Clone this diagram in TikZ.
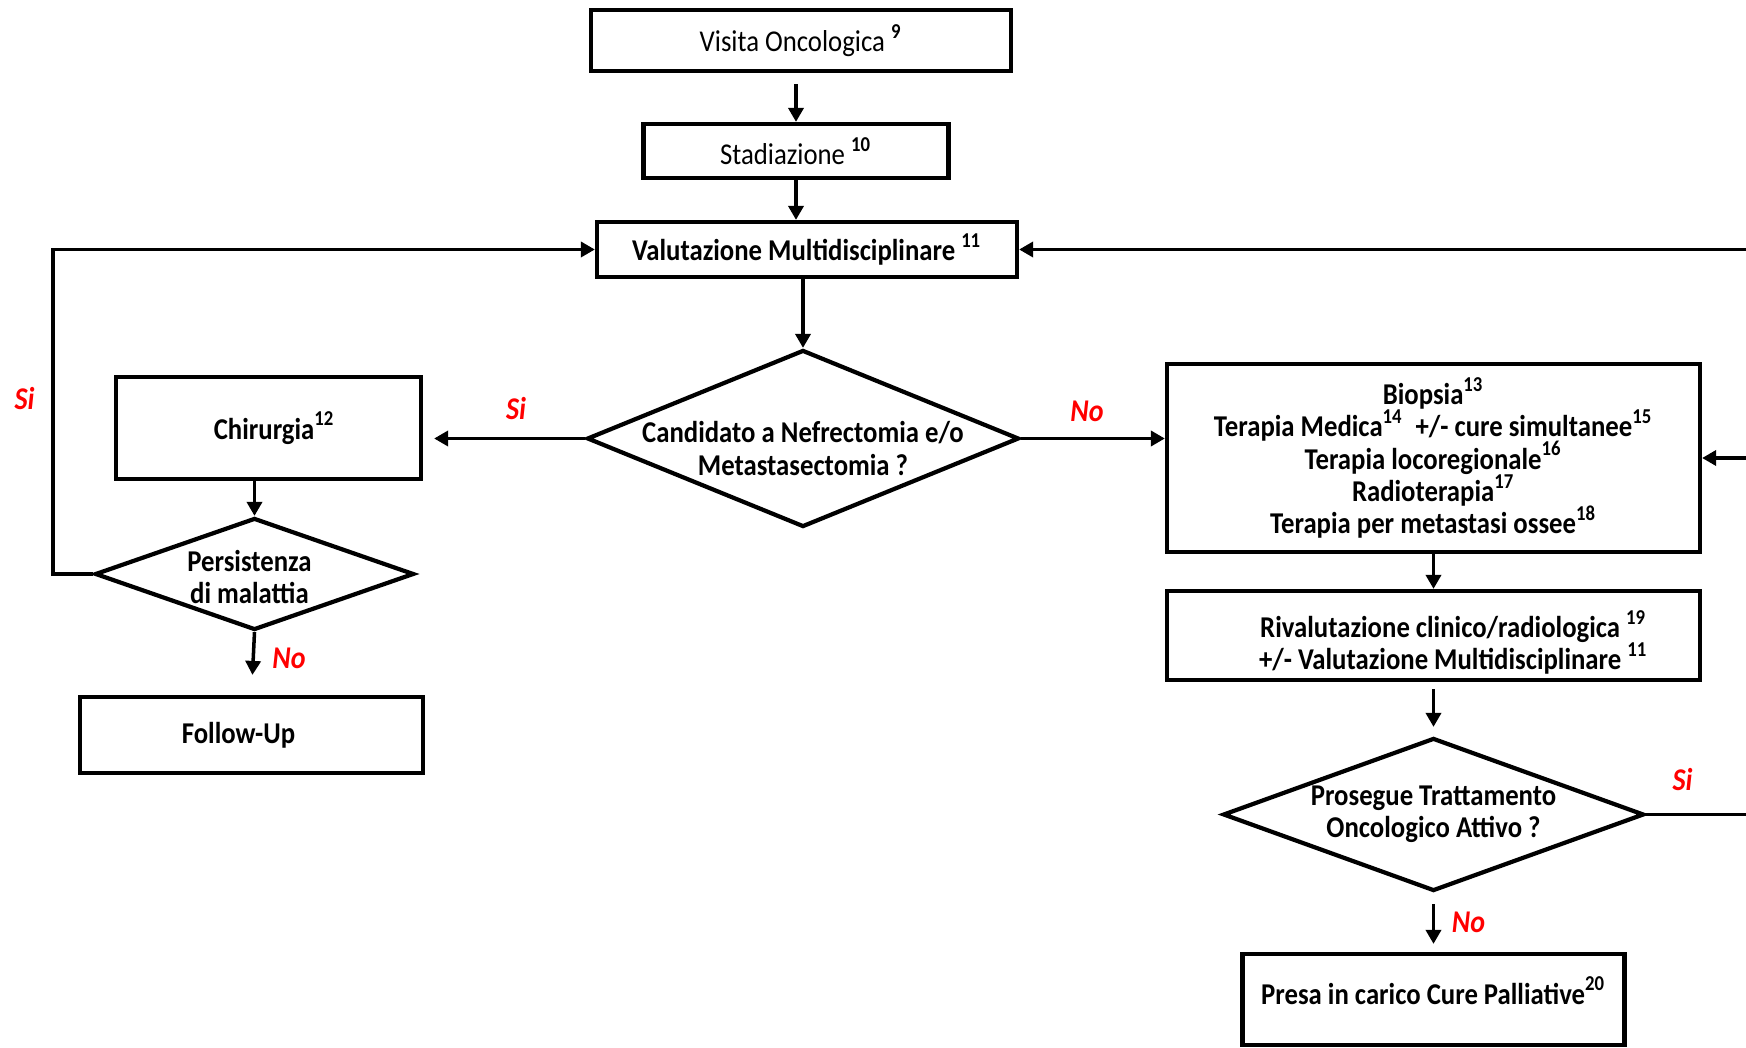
\documentclass[tikz,border=0pt]{standalone}
\usepackage{fontspec}
\setmainfont{Carlito}[FakeStretch=0.885]
\usepackage{tikz}
\usetikzlibrary{arrows.meta,shapes.geometric,positioning}

\begin{document}
\begin{tikzpicture}[node distance=2cm,
                box/.style={draw,rectangle,line width=1.2pt,inner sep=0pt,align=center,font=\fontsize{8.6}{9.2}\selectfont\lineskiplimit-6pt\relax},
                bbox/.style={box,font=\fontsize{8.6}{9.2}\selectfont\lineskiplimit-6pt\relax\bfseries},
                choice/.style={draw,diamond,line width=1.2pt,inner sep=0pt},
                qtext/.style={align=center,inner sep=0pt,font=\fontsize{8.6}{9.2}\selectfont\lineskiplimit-6pt\relax\bfseries},
                arr/.style={line width=1pt,-{Triangle[length=1.4mm,width=1.5mm]}},
                ans/.style={text=red,font=\fontsize{9}{10}\selectfont\bfseries\itshape}]
                \useasboundingbox (0,0) rectangle (17.46,-10.48);
                \clip (0,0) rectangle (17.46,-10.48);
                \node[box] (visita) at (8.01,-0.405) [minimum width=4.2cm,minimum height=0.61cm] {Visita Oncologica \textbf{\textsuperscript{9}}};
                \node[box] (stadio) [below of=visita,yshift=0.895cm,xshift=-0.05cm,minimum width=3.05cm,minimum height=0.54cm] {Stadiazione \textbf{\textsuperscript{10}}};
                \node[bbox] (valut) [below of=stadio,yshift=1.015cm,xshift=0.11cm,minimum width=4.2cm,minimum height=0.55cm] {Valutazione Multidisciplinare \textsuperscript{11}};
                \node[choice] (cand) [below of=valut,yshift=0.11cm,xshift=-0.04cm,minimum width=4.32cm,minimum height=1.77cm,
                    label={[qtext,yshift=-0.1cm]center:Candidato a Nefrectomia e/o\\Metastasectomia ?}] {};
                \node[bbox] (chir) [left of=cand,xshift=-3.345cm,yshift=0.105cm,minimum width=3.05cm,minimum height=1.02cm] {\hspace*{0.12cm}Chirurgia\textsuperscript{12}};
                \node[choice] (pers) [below of=chir,yshift=0.54cm,xshift=-0.14cm,minimum width=3.19cm,minimum height=1.12cm,
                    label={[qtext,yshift=-0.03cm,xshift=-0.05cm]center:Persistenza\\di malattia}] {};
                \node[bbox] (follow) [below of=pers,yshift=0.39cm,xshift=-0.03cm,minimum width=3.43cm,minimum height=0.76cm] {\hspace*{-0.26cm}Follow-Up};
                \node[bbox] (terapia) [right of=cand,xshift=4.305cm,yshift=-0.195cm,minimum width=5.33cm,minimum height=1.88cm] {Biopsia\textsuperscript{13}\\
                    Terapia Medica\textsuperscript{14}~ +/- cure simultanee\textsuperscript{15}\\
                    Terapia locoregionale\textsuperscript{16}\\
                    Radioterapia\textsuperscript{17}\\
                    Terapia per metastasi ossee\textsuperscript{18}};
                \node[box] (rival) [below of=terapia,yshift=0.225cm,minimum width=5.33cm,minimum height=0.89cm,
                    label={[qtext,xshift=0.2cm,yshift=-0.07cm]center:Rivalutazione clinico/radiologica \textsuperscript{19}\\+/- Valutazione Multidisciplinare \textsuperscript{11}}] {};
                \node[choice] (prosegue) [below of=rival,yshift=0.21cm,minimum width=4.21cm,minimum height=1.53cm,
                    label={[qtext]center:Prosegue Trattamento\\Oncologico Attivo ?}] {};
                \node[box] (presa) [below of=prosegue,yshift=0.15cm,minimum width=3.82cm,minimum height=0.91cm,
                    label={[qtext,yshift=0.09cm]center:Presa in carico Cure Palliative\textsuperscript{20}}] {};
                \coordinate (ll) at (0.53,0);
                \coordinate (rr) at (17.6,0);

                \draw[arr]
                (stadio.north |- visita.south) edge[shorten <=1.1mm] (stadio.north)
                (stadio.south) edge (stadio.south |- valut.north)
                (cand.north |- valut.south) edge (cand.north)
                (cand.west) edge[shorten >=1.1mm] node[ans,above,yshift=0.05cm,xshift=0.12cm] {Si} (cand.west -| chir.east)
                (cand.east) edge node[ans,above,yshift=0.03cm,xshift=-0.06cm] {No} (cand.east -| terapia.west)
                (pers.north |- chir.south) edge (pers.north)
                (pers.south) edge[shorten >=2mm] node[ans,right,xshift=0.06cm,yshift=0.05cm] {No} (follow.north)
                (terapia.south) edge (rival.north)
                (rival.south) edge[shorten <=0.7mm,shorten >=0.9mm] (prosegue.north)
                (prosegue.south) edge[shorten <=1.1mm,shorten >=0.8mm] node[ans,right,xshift=0.05cm] {No} (presa.north)
                (terapia.east -| rr) edge (terapia.east);
                \draw[arr] (pers.west) -- (pers.west -| ll) |- node[ans,left,pos=.27,xshift=-0.05cm] {Si} (valut.west);
                \draw[arr] (prosegue.east) -- node[ans,above,pos=.32,yshift=0.1cm] {Si} (prosegue.east -| rr) |- (valut.east);
\end{tikzpicture}
\end{document}
